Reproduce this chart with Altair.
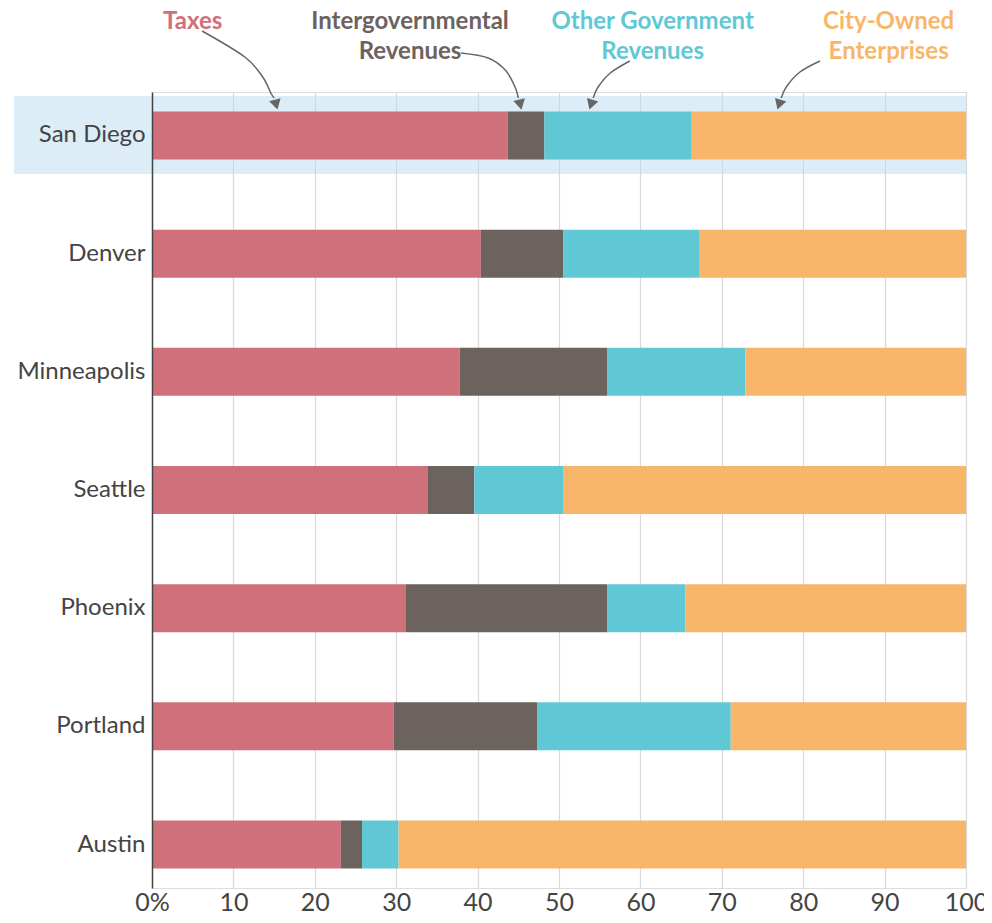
import altair as alt
import pandas as pd

# ---- data ----
cities = ["San Diego", "Denver", "Minneapolis", "Seattle", "Phoenix", "Portland", "Austin"]
categories = ["Taxes", "Intergovernmental Revenues", "Other Government Revenues", "City-Owned Enterprises"]
colors = ["#d0707a", "#6d635e", "#60c8d5", "#f7b66a"]

taxes = [43.7, 40.4, 37.8, 33.9, 31.2, 29.7, 23.2]
intergov = [4.5, 10.1, 18.1, 5.7, 24.7, 17.6, 2.6]
other_gov = [18.1, 16.7, 17.0, 10.9, 9.6, 23.8, 4.5]
enterprises = [33.7, 32.8, 27.1, 49.5, 34.5, 28.9, 69.7]

highlight_city = ["San Diego"]

# legend-style annotations (x in % units, py = pixel offset from plot top)
ann_lines = ["Taxes", "Intergovernmental", "Revenues", "Other Government", "Revenues",
             "City-Owned", "Enterprises"]
ann_x = [5.0, 31.7, 31.7, 61.5, 61.5, 90.5, 90.5]
ann_py = [-70, -70, -40, -70, -40, -70, -40]
ann_color = [colors[0], colors[1], colors[1], colors[2], colors[2], colors[3], colors[3]]

# curved arrows
arrow_id = ["a"] * 5 + ["b"] * 5 + ["c"] * 4 + ["d"] * 4
arrow_i = [0, 1, 2, 3, 4, 0, 1, 2, 3, 4, 0, 1, 2, 3, 0, 1, 2, 3]
arrow_x = [6.15, 11.4, 13.6, 14.6, 15.0,
           37.96, 41.3, 43.4, 44.6, 45.0,
           58.7, 56.3, 54.8, 54.2,
           82.06, 79.6, 78.0, 77.3]
arrow_py = [-61, -35, -15, 1, 6,
            -39, -34, -22, -5, 6,
            -31, -19, -5, 6,
            -31, -20, -6, 6]
head_x = [15.2, 45.2, 54.0, 77.1]
head_py = [11, 11, 11, 11]
head_angle = [165, 167, 198, 198]

# ---- tables ----
rows = []
for ci, c in enumerate(cities):
    for k, (cat, vals) in enumerate(zip(categories, [taxes, intergov, other_gov, enterprises])):
        rows.append({"city": c, "category": cat, "value": vals[ci], "idx": k})
df = pd.DataFrame(rows)
ann_df = pd.DataFrame({"line": ann_lines, "x": ann_x, "py": ann_py, "color": ann_color})
arrow_df = pd.DataFrame({"arrow": arrow_id, "i": arrow_i, "x": arrow_x, "py": arrow_py})
head_df = pd.DataFrame({"x": head_x, "py": head_py, "ang": head_angle})

W, H = 814, 796
FONT = "Lato"

yband = alt.Scale(domain=cities, paddingInner=0.594, paddingOuter=0.165)
xscale = alt.Scale(domain=[0, 100], nice=False, zero=True)
ypx = alt.Scale(domain=[0, H], reverse=True, nice=False, zero=False)

y_axis = alt.Axis(ticks=False, domain=True, domainColor="#444", domainWidth=1.5,
                  labelFontSize=24, labelColor="#444", labelFont=FONT,
                  labelPadding=7, grid=False, zindex=1)
x_axis = alt.Axis(values=list(range(0, 101, 10)),
                  labelExpr="datum.value == 0 ? '\u2007\u20070%' : datum.label",
                  grid=True, gridColor="#d9d9d9", gridWidth=1.2,
                  ticks=False, domain=False, labelFontSize=25,
                  labelColor="#444", labelFont=FONT, labelPadding=2,
                  labelFlush=False)

band = alt.Chart(pd.DataFrame({"city": highlight_city})).mark_bar(
    size=78, color="#b9dcf1", opacity=0.5, yOffset=-0.5
).encode(
    y=alt.Y("city:N", scale=yband, title=None, axis=y_axis),
    x=alt.value(-138),
    x2=alt.value(W),
)

bars = alt.Chart(df).mark_bar().encode(
    y=alt.Y("city:N", scale=yband, title=None, axis=y_axis),
    x=alt.X("value:Q", stack="zero", scale=xscale, title=None, axis=x_axis),
    color=alt.Color("category:N", scale=alt.Scale(domain=categories, range=colors), legend=None),
    order=alt.Order("idx:Q"),
)

texts = alt.Chart(ann_df).mark_text(
    font=FONT, fontWeight="bold", fontSize=24, baseline="middle", align="center"
).encode(
    x=alt.X("x:Q", scale=xscale, title=None, axis=x_axis),
    y=alt.Y("py:Q", scale=ypx, axis=None),
    text="line:N",
    color=alt.Color("color:N", scale=None),
)

arrows = alt.Chart(arrow_df).mark_line(
    color="#666", strokeWidth=1.5, interpolate="cardinal"
).encode(
    x=alt.X("x:Q", scale=xscale, title=None, axis=x_axis),
    y=alt.Y("py:Q", scale=ypx, axis=None),
    detail="arrow:N",
    order="i:Q",
)

heads = alt.Chart(head_df).mark_point(
    shape="triangle", filled=True, color="#666", size=140, opacity=1
).encode(
    x=alt.X("x:Q", scale=xscale, title=None, axis=x_axis),
    y=alt.Y("py:Q", scale=ypx, axis=None),
    angle=alt.Angle("ang:Q", scale=None),
)

base = alt.layer(band, bars)

chart = alt.layer(base, texts, arrows, heads).resolve_scale(
    y="independent"
).properties(
    width=W, height=H,
    autosize=alt.AutoSizeParams(type="none"),
    padding={"left": 144, "top": 84, "right": 18, "bottom": 27},
).configure_view(strokeWidth=0, stroke="transparent").configure(background="white")

chart.save("out.html", embed_options={"renderer": "svg", "actions": False})
